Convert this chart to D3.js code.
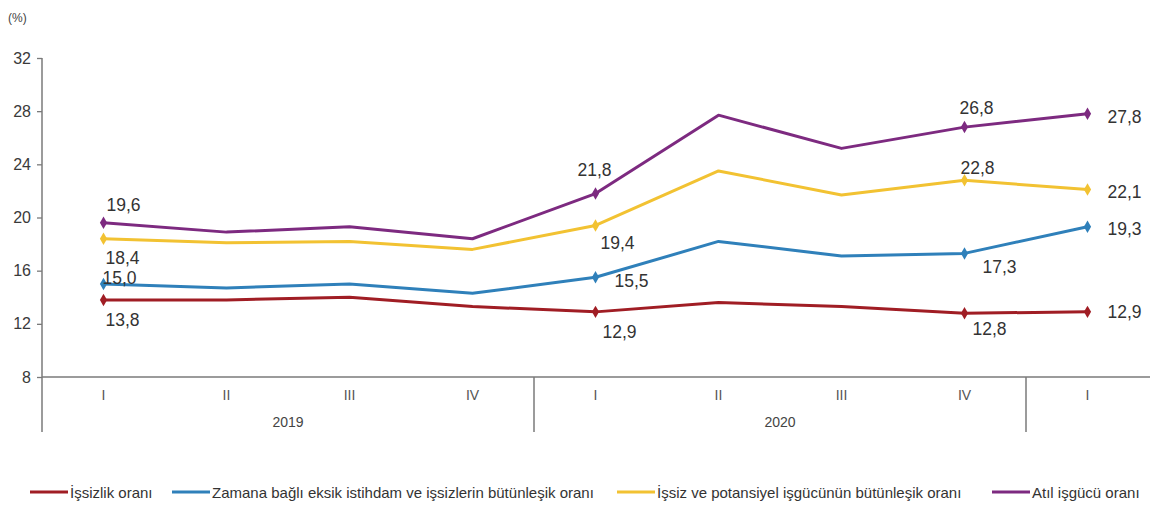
<!DOCTYPE html>
<html><head><meta charset="utf-8">
<script src="https://cdn.jsdelivr.net/npm/d3@7/dist/d3.min.js"></script>
<style>
html,body{margin:0;padding:0;background:#fff;}
svg{display:block;font-family:"Liberation Sans",Arial,sans-serif;}
</style></head>
<body><svg id="c" width="1150" height="508"></svg>
<script>
const quarters = ["I","II","III","IV","I","II","III","IV","I"];
const years = [{label:"2019", from:0, to:3},{label:"2020", from:4, to:7}];
const yTicks = [8,12,16,20,24,28,32];
const seriesNames = ["İşsizlik oranı","Zamana bağlı eksik istihdam ve işsizlerin bütünleşik oranı","İşsiz ve potansiyel işgücünün bütünleşik oranı","Atıl işgücü oranı"];
const unemployment = [13.8,13.8,14.0,13.3,12.9,13.6,13.3,12.8,12.9];
const timeRelated = [15.0,14.7,15.0,14.3,15.5,18.2,17.1,17.3,19.3];
const potential = [18.4,18.1,18.2,17.6,19.4,23.5,21.7,22.8,22.1];
const slack = [19.6,18.9,19.3,18.4,21.8,27.7,25.2,26.8,27.8];
const labelled = [0,4,7,8];

const colors = ["#a01d24","#2f80ba","#f2c232","#7d2a80"];
// label offsets [dx,dy,anchor] per series per labelled index
const labelPos = [
  [[19,20,"middle"],[24,20,"middle"],[25,16,"middle"],[20,0,"start"]],
  [[16,-6,"middle"],[36,4,"middle"],[35,14,"middle"],[20,2,"start"]],
  [[19,19,"middle"],[22,18,"middle"],[13,-12,"middle"],[20,2,"start"]],
  [[20,-18,"middle"],[-1,-24,"middle"],[12,-19,"middle"],[20,3,"start"]]
];

const data = [unemployment,timeRelated,potential,slack];
const svg = d3.select("#c");
const x0 = 42, x1 = 1149;
const xBand = d3.scaleBand().domain(d3.range(quarters.length)).range([x0,x1]);
const x = d3.scalePoint().domain(d3.range(quarters.length)).range([x0,x1]).padding(0.5);
const y = d3.scaleLinear().domain([8,32]).range([377,58]);
const axisColor = "#7a7a7a";

// y axis
const ya = svg.append("g").attr("transform",`translate(${x0},0)`)
  .call(d3.axisLeft(y).tickValues(yTicks).tickSize(5).tickPadding(6));
ya.select(".domain").remove();
ya.selectAll(".tick line").attr("stroke",axisColor).attr("stroke-width",1.3);
ya.selectAll(".tick text").attr("fill","#3a3a3a").style("font-size","16px");
svg.append("line").attr("x1",x0).attr("x2",x0).attr("y1",y(32)).attr("y2",432).attr("stroke",axisColor).attr("stroke-width",1.5);
// x axis
svg.append("line").attr("x1",x0).attr("x2",1150).attr("y1",y(8)).attr("y2",y(8)).attr("stroke",axisColor).attr("stroke-width",1.5);
[4,8].forEach(i=>{
  svg.append("line").attr("x1",xBand(i)).attr("x2",xBand(i)).attr("y1",y(8)).attr("y2",432).attr("stroke",axisColor).attr("stroke-width",1.5);
});
svg.append("g").selectAll("text").data(quarters).join("text")
  .attr("x",(d,i)=>x(i)).attr("y",400).attr("text-anchor","middle")
  .attr("fill","#555").style("font-size","14px").text(d=>d);
svg.append("g").selectAll("text").data(years).join("text")
  .attr("x",d=>(x(d.from)+x(d.to))/2).attr("y",427).attr("text-anchor","middle")
  .attr("fill","#444").style("font-size","14px").text(d=>d.label);
svg.append("text").attr("x",8).attr("y",22).attr("fill","#444").style("font-size","12px").text("(%)");

// lines
const line = d3.line().x((d,i)=>x(i)).y(d=>y(d));
data.forEach((s,k)=>{
  svg.append("path").datum(s).attr("d",line).attr("fill","none")
    .attr("stroke",colors[k]).attr("stroke-width",3).attr("stroke-linejoin","round");
  const sym = d3.symbol().type(d3.symbolDiamond).size(45);
  svg.append("g").selectAll("path").data(labelled).join("path")
    .attr("d",sym).attr("transform",i=>`translate(${x(i)},${y(s[i])})`).attr("fill",colors[k]);
  svg.append("g").selectAll("text").data(labelled).join("text")
    .attr("x",(i,j)=>x(i)+labelPos[k][j][0])
    .attr("y",(i,j)=>y(s[i])+labelPos[k][j][1])
    .attr("text-anchor",(i,j)=>labelPos[k][j][2])
    .attr("dominant-baseline","central")
    .attr("fill","#333").style("font-size","17.5px")
    .text(i=>d3.format(".1f")(s[i]).replace(".",","));
});

// legend
const legX = [30,172,617,992];
const lg = svg.append("g");
seriesNames.forEach((n,k)=>{
  lg.append("line").attr("x1",legX[k]).attr("x2",legX[k]+38).attr("y1",492).attr("y2",492)
    .attr("stroke",colors[k]).attr("stroke-width",3);
  lg.append("text").attr("x",legX[k]+40).attr("y",492).attr("dominant-baseline","central")
    .attr("fill","#333").style("font-size","15px").text(n);
});
</script></body></html>
